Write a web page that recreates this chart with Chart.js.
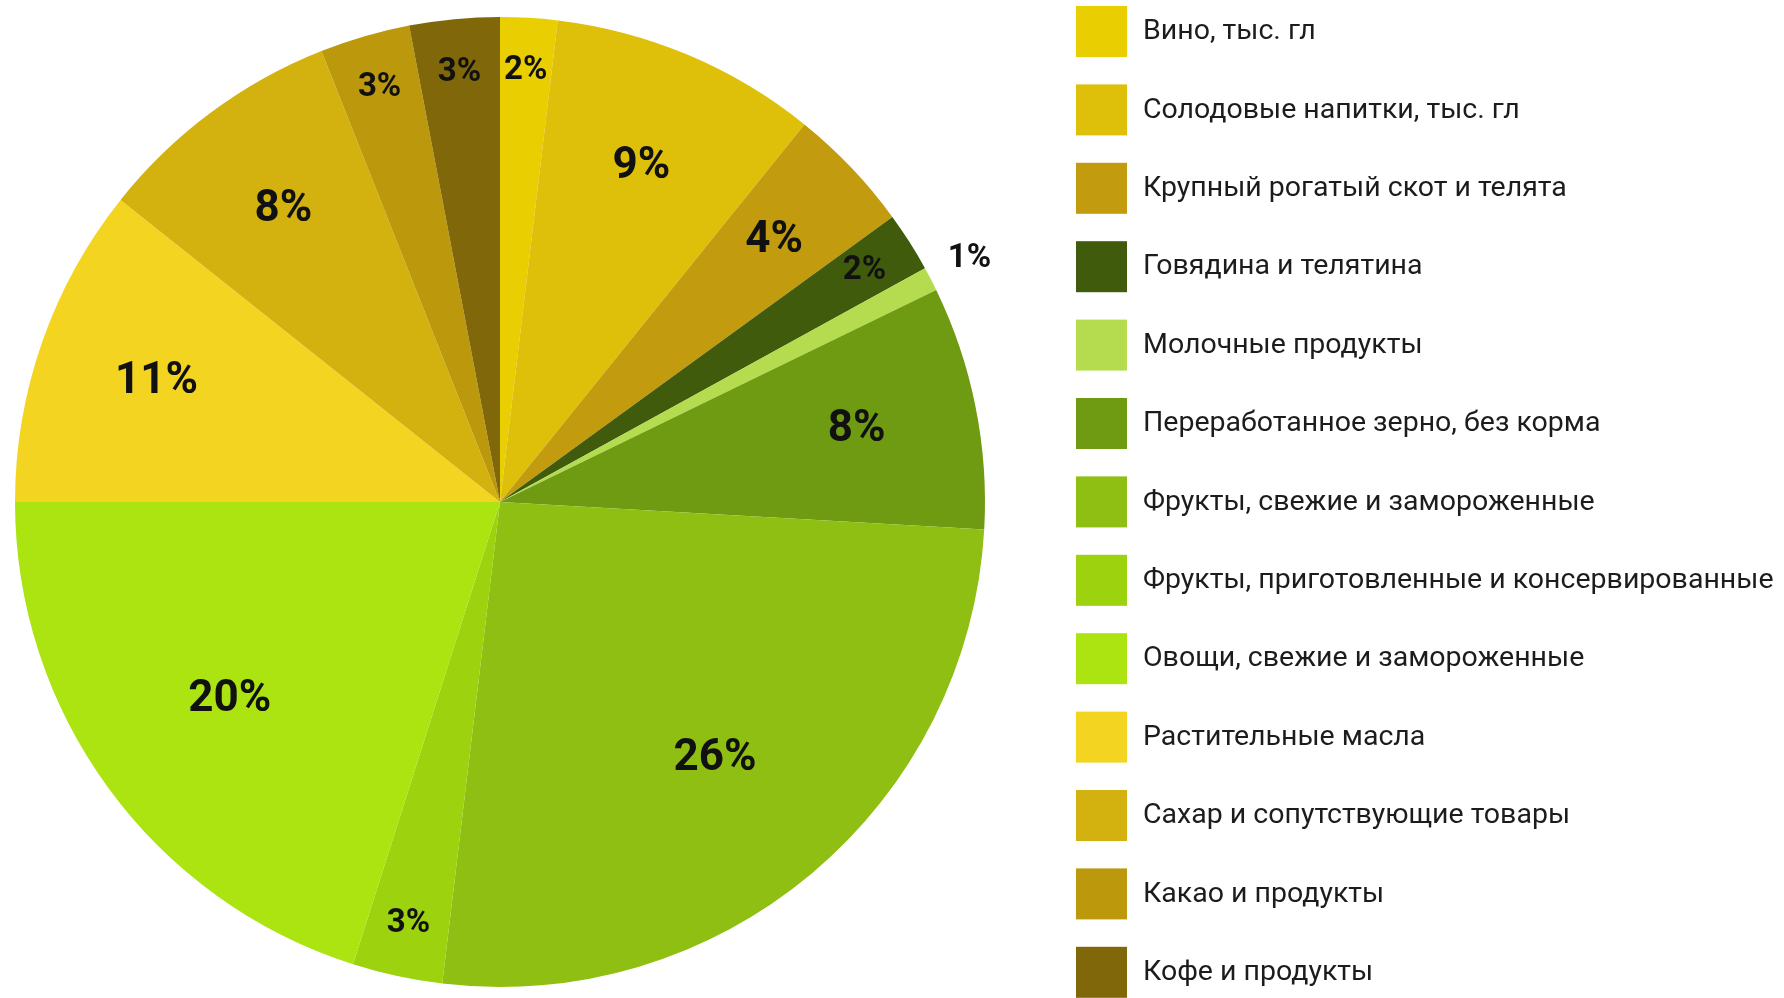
<!DOCTYPE html>
<html>
<head>
<meta charset="utf-8">
<script src="https://cdn.jsdelivr.net/npm/chart.js@4.4.1/dist/chart.umd.min.js"></script>
<style>
  html, body { margin: 0; padding: 0; background: #ffffff; }
  #wrap { position: absolute; left: 0; top: 0; width: 1784px; height: 998px; }
</style>
</head>
<body>
<div id="wrap"><canvas id="c"></canvas></div>
<script>
// ---- data ----
const categories = [
  "Вино, тыс. гл",
  "Солодовые напитки, тыс. гл",
  "Крупный рогатый скот и телята",
  "Говядина и телятина",
  "Молочные продукты",
  "Переработанное зерно, без корма",
  "Фрукты, свежие и замороженные",
  "Фрукты, приготовленные и консервированные",
  "Овощи, свежие и замороженные",
  "Растительные масла",
  "Сахар и сопутствующие товары",
  "Какао и продукты",
  "Кофе и продукты"
];
const shares = [1.9, 8.9, 4.2, 2.0, 0.8, 8.1, 26.0, 3.0, 20.1, 10.7, 8.3, 3.0, 3.0];
const sliceColors = [
  "#E9CE02", "#DEBF0A", "#C29C0E", "#3F5B0B", "#B4DC4E", "#6F9B13", "#8FBF12",
  "#9DD20E", "#ABE410", "#F3D420", "#D3B10E", "#BB980C", "#7F670A"
];

// ---- label placement style ----
function labelRadiusFrac(v) {
  if (v < 1.5) return 1.09;
  if (v >= 15) return 0.69;
  if (v >= 7) return 0.75;
  if (v >= 4) return 0.78;
  return 0.89;
}
function labelFont(v) {
  if (v >= 4) return "bold 44px Roboto";
  return "bold 33px Roboto";
}

const pctLabels = {
  id: "pctLabels",
  afterDatasetsDraw(chart) {
    const ctx = chart.ctx;
    const meta = chart.getDatasetMeta(0);
    const total = shares.reduce((a, b) => a + b, 0);
    ctx.save();
    ctx.fillStyle = "#111111";
    ctx.textAlign = "center";
    ctx.textBaseline = "middle";
    meta.data.forEach((arc, i) => {
      const v = shares[i];
      const p = arc.getProps(["x", "y", "startAngle", "endAngle", "outerRadius"], true);
      const mid = (p.startAngle + p.endAngle) / 2;
      const r = p.outerRadius * labelRadiusFrac(v);
      ctx.font = labelFont(v);
      ctx.fillText(Math.round(v / total * 100) + "%", p.x + Math.cos(mid) * r, p.y + Math.sin(mid) * r);
    });
    ctx.restore();
  }
};

const sideLegend = {
  id: "sideLegend",
  afterDraw(chart) {
    const ctx = chart.ctx;
    ctx.save();
    ctx.textAlign = "left";
    ctx.textBaseline = "middle";
    ctx.font = "28.5px Roboto";
    categories.forEach((name, i) => {
      const top = 6 + i * 78.4;
      ctx.fillStyle = sliceColors[i];
      ctx.fillRect(1076, top, 51, 51);
      ctx.fillStyle = "#1c1c1c";
      ctx.fillText(name, 1143, top + 26);
    });
    ctx.restore();
  }
};

new Chart(document.getElementById("c"), {
  type: "pie",
  data: {
    labels: categories,
    datasets: [{
      data: shares,
      backgroundColor: sliceColors,
      borderWidth: 0,
      hoverOffset: 0
    }]
  },
  options: {
    responsive: true,
    maintainAspectRatio: false,
    animation: false,
    layout: { padding: { left: 15, top: 17, right: 799, bottom: 11 } },
    plugins: {
      legend: { display: false },
      tooltip: { enabled: false }
    }
  },
  plugins: [pctLabels, sideLegend]
});
</script>
</body>
</html>
